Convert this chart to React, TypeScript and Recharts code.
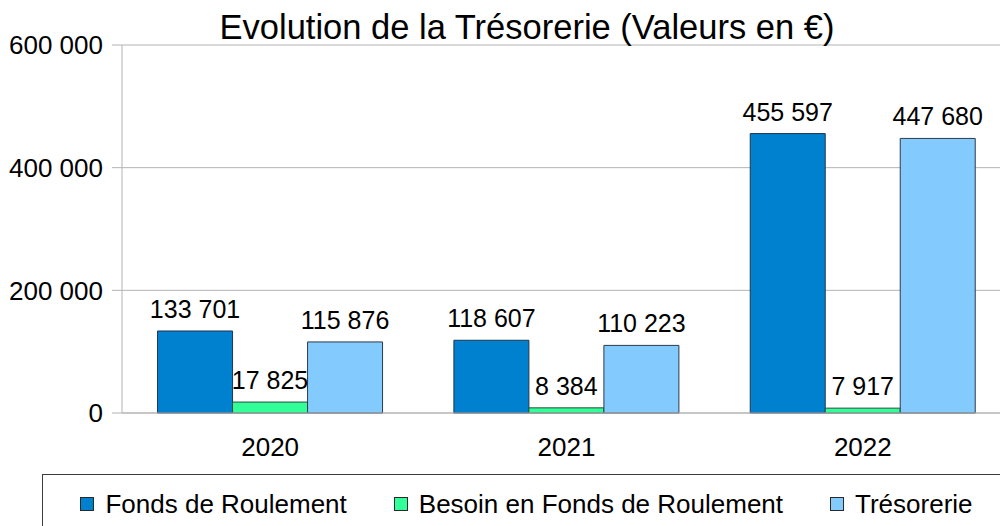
import React from 'react'
import { BarChart, Bar, XAxis, YAxis, CartesianGrid, Legend, LabelList } from 'recharts'

const years = ['2020', '2021', '2022']
const fondsRoulement = [133701, 118607, 455597]
const besoinFondsRoulement = [17825, 8384, 7917]
const tresorerie = [115876, 110223, 447680]
const yTicks = [0, 200000, 400000, 600000]
const boundaryTicks = [0, 1, 2, 3]
const seriesOrder = ['Fonds de Roulement', 'Besoin en Fonds de Roulement', 'Trésorerie']

const COLORS = {
  fr: '#0081cf',
  bfr: '#33ff99',
  tres: '#83caff',
}

const data = years.map((year, i) => ({
  year,
  fr: fondsRoulement[i],
  bfr: besoinFondsRoulement[i],
  tres: tresorerie[i],
}))

// thousands separated by a space, like the source
const fmt = (v: number | string) => String(v).replace(/\B(?=(\d{3})+(?!\d))/g, ' ')

const FONT = '"Liberation Sans", Arial, sans-serif'

function LegendBox({ payload }: any) {
  const items = [...(payload || [])].sort(
    (a: any, b: any) => seriesOrder.indexOf(a.value) - seriesOrder.indexOf(b.value)
  )
  return (
    <div
      style={{
        boxSizing: 'border-box',
        width: '100%',
        height: '100%',
        border: '1px solid #3c3c3c',
        paddingTop: 16,
        display: 'flex',
        alignItems: 'flex-start',
        justifyContent: 'center',
        gap: 47,
        fontSize: 26,
        lineHeight: '26px',
        color: '#000',
      }}
    >
      {items.map((p: any) => (
        <div key={p.value} style={{ display: 'flex', alignItems: 'center', whiteSpace: 'nowrap' }}>
          <span
            style={{
              display: 'inline-block',
              boxSizing: 'border-box',
              width: 14,
              height: 14,
              background: p.color,
              border: '1px solid #2a2a2a',
              marginRight: 11,
            }}
          />
          {p.value}
        </div>
      ))}
    </div>
  )
}

export default function App() {
  return (
    <div
      style={{
        position: 'absolute',
        left: 0,
        top: 0,
        width: 1000,
        height: 526,
        overflow: 'hidden',
        background: '#fff',
        fontFamily: FONT,
      }}
    >
      <div
        style={{
          position: 'absolute',
          left: 0,
          top: 10,
          width: 1054,
          textAlign: 'center',
          fontSize: 34.5,
          lineHeight: '34px',
          color: '#000',
          zIndex: 2,
        }}
      >
        Evolution de la Trésorerie (Valeurs en €)
      </div>
      <BarChart
        width={1054}
        height={526}
        data={data}
        margin={{ top: 45, right: 43, bottom: 111, left: 0 }}
        barCategoryGap="12%"
        barGap={0}
      >
        <CartesianGrid vertical={false} stroke="#b3b3b3" />
        <XAxis
          dataKey="year"
          height={1}
          tickLine={false}
          tickSize={0}
          tickMargin={25}
          stroke="#b3b3b3"
          tick={{ fontSize: 26, fill: '#000' }}
        />
        {/* category boundary ticks under the axis */}
        <XAxis
          xAxisId="bounds"
          type="number"
          domain={[0, 3]}
          ticks={boundaryTicks}
          allowDataOverflow
          height={1}
          axisLine={false}
          tick={false}
          tickSize={12}
          stroke="#b3b3b3"
        />
        <YAxis
          width={122}
          domain={[0, 600000]}
          ticks={yTicks}
          tickFormatter={fmt}
          tickSize={10}
          tickMargin={9}
          stroke="#b3b3b3"
          tick={{ fontSize: 26, fill: '#000' }}
        />
        <Legend
          layout="horizontal"
          verticalAlign="middle"
          align="center"
          content={<LegendBox />}
          wrapperStyle={{ position: 'absolute', left: 42, top: 474, width: 969, height: 70 }}
        />
        <Bar dataKey="fr" name="Fonds de Roulement" fill={COLORS.fr} stroke="#1f3550" strokeWidth={1} isAnimationActive={false}>
          <LabelList dataKey="fr" position="top" offset={13} formatter={fmt} fill="#000" fontSize={25} />
        </Bar>
        <Bar dataKey="bfr" name="Besoin en Fonds de Roulement" fill={COLORS.bfr} stroke="#2a4a3a" strokeWidth={1} isAnimationActive={false}>
          <LabelList dataKey="bfr" position="top" offset={13} formatter={fmt} fill="#000" fontSize={25} />
        </Bar>
        <Bar dataKey="tres" name="Trésorerie" fill={COLORS.tres} stroke="#2e3a48" strokeWidth={1} isAnimationActive={false}>
          <LabelList dataKey="tres" position="top" offset={13} formatter={fmt} fill="#000" fontSize={25} />
        </Bar>
      </BarChart>
    </div>
  )
}
